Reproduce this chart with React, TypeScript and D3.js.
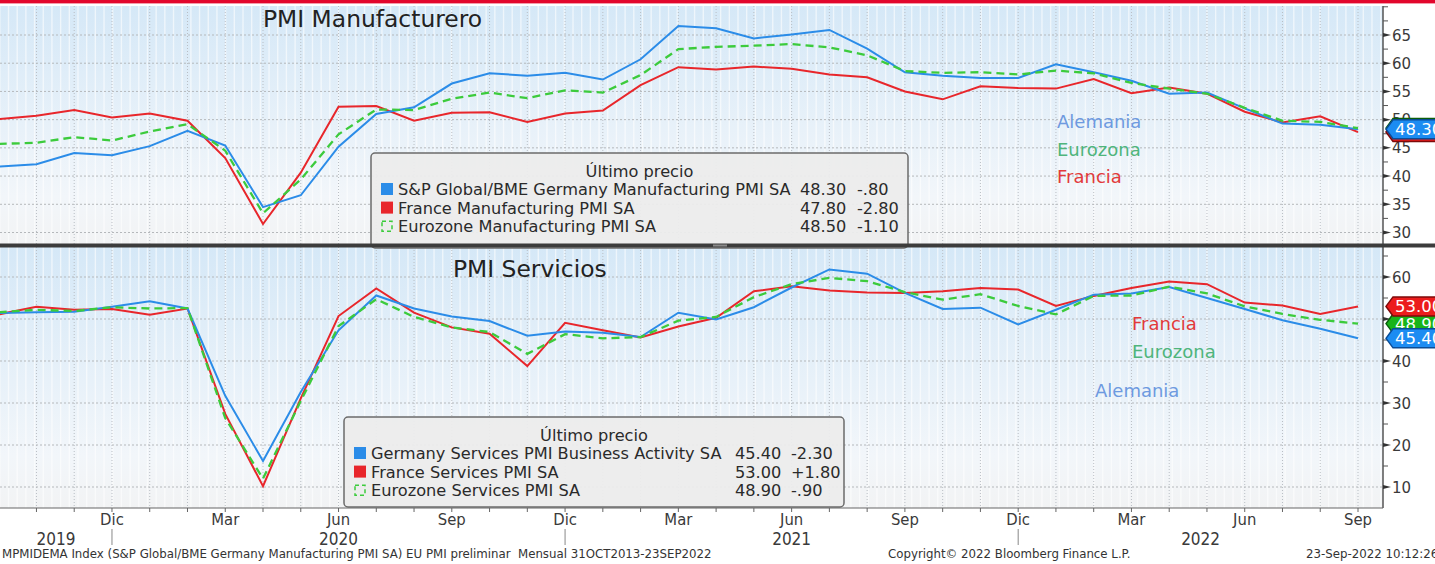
import React from "react";
import * as d3 from "d3";

// monthly observations, Sep 2019 .. Sep 2022
const months = [
  "2019-09", "2019-10", "2019-11", "2019-12",
  "2020-01", "2020-02", "2020-03", "2020-04", "2020-05", "2020-06", "2020-07", "2020-08", "2020-09", "2020-10", "2020-11", "2020-12",
  "2021-01", "2021-02", "2021-03", "2021-04", "2021-05", "2021-06", "2021-07", "2021-08", "2021-09", "2021-10", "2021-11", "2021-12",
  "2022-01", "2022-02", "2022-03", "2022-04", "2022-05", "2022-06", "2022-07", "2022-08", "2022-09",
];

const deMfg = [41.7, 42.1, 44.1, 43.7, 45.3, 48.0, 45.4, 34.5, 36.6, 45.2, 51.0, 52.2, 56.4, 58.2, 57.8, 58.3, 57.1, 60.7, 66.6, 66.2, 64.4, 65.1, 65.9, 62.6, 58.4, 57.8, 57.4, 57.4, 59.8, 58.4, 56.9, 54.6, 54.8, 52.0, 49.3, 49.1, 48.3];
const frMfg = [50.1, 50.7, 51.7, 50.4, 51.1, 49.8, 43.2, 31.5, 40.6, 52.3, 52.4, 49.8, 51.2, 51.3, 49.6, 51.1, 51.6, 56.1, 59.3, 58.9, 59.4, 59.0, 58.0, 57.5, 55.0, 53.6, 55.9, 55.6, 55.5, 57.2, 54.7, 55.7, 54.6, 51.4, 49.5, 50.6, 47.8];
const ezMfg = [45.7, 45.9, 46.9, 46.3, 47.9, 49.2, 44.5, 33.4, 39.4, 47.4, 51.8, 51.7, 53.7, 54.8, 53.8, 55.2, 54.8, 57.9, 62.5, 62.9, 63.1, 63.4, 62.8, 61.4, 58.6, 58.3, 58.4, 58.0, 58.7, 58.2, 56.5, 55.5, 54.6, 52.1, 49.8, 49.6, 48.5];

const deSvc = [51.4, 51.6, 51.7, 52.9, 54.2, 52.5, 31.7, 16.2, 32.6, 47.3, 55.6, 52.5, 50.6, 49.5, 46.0, 47.0, 46.7, 45.7, 51.5, 49.9, 52.8, 57.5, 61.8, 60.8, 56.2, 52.4, 52.7, 48.7, 52.2, 55.8, 56.1, 57.6, 55.0, 52.4, 49.7, 47.7, 45.4];
const frSvc = [51.1, 52.9, 52.2, 52.4, 51.0, 52.5, 27.4, 10.2, 31.1, 50.7, 57.3, 51.5, 48.0, 46.5, 38.8, 49.1, 47.3, 45.6, 48.2, 50.3, 56.6, 57.8, 56.8, 56.3, 56.2, 56.6, 57.4, 57.0, 53.1, 55.5, 57.4, 58.9, 58.3, 53.9, 53.2, 51.2, 53.0];
const ezSvc = [51.6, 52.2, 51.9, 52.8, 52.5, 52.6, 26.4, 12.0, 30.5, 48.3, 54.7, 50.5, 48.0, 46.9, 41.7, 46.4, 45.4, 45.7, 49.6, 50.5, 55.2, 58.3, 59.8, 59.0, 56.4, 54.6, 55.9, 53.1, 51.1, 55.5, 55.6, 57.7, 56.1, 53.0, 51.2, 49.8, 48.9];

const mfgNames = ["S&P Global/BME Germany Manufacturing PMI SA", "France Manufacturing PMI SA", "Eurozone Manufacturing PMI SA"];
const mfgLast = ["48.30", "47.80", "48.50"];
const mfgChg = ["-.80", "-2.80", "-1.10"];
const svcNames = ["Germany Services PMI Business Activity SA", "France Services PMI SA", "Eurozone Services PMI SA"];
const svcLast = ["45.40", "53.00", "48.90"];
const svcChg = ["-2.30", "+1.80", "-.90"];

const monthNames: Record<string, string> = { "03": "Mar", "06": "Jun", "09": "Sep", "12": "Dic" };
const years = ["2019", "2020", "2021", "2022"];

const topTicks = [30, 35, 40, 45, 50, 55, 60, 65];
const botTicks = [10, 20, 30, 40, 50, 60];

const W = 1435;
const H = 564;
const AX = 1383;
const FONT = "'DejaVu Sans', Verdana, sans-serif";
const COND = "'DejaVu Sans Condensed', 'DejaVu Sans', sans-serif";

const BLUE = "#2b8ce8";
const RED = "#e8262b";
const GREEN = "#3ccb3c";

const x = d3.scaleLinear().domain([0, months.length - 1]).range([-1.3, 1358]);
const yTop = d3.scaleLinear().domain([30, 65]).range([232.5, 35]);
const yBot = d3.scaleLinear().domain([10, 60]).range([487, 277]);

function Panel(props: {
  id: string; y0: number; y1: number; y: d3.ScaleLinear<number, number>;
  ticks: number[]; minor: number[];
  de: number[]; fr: number[]; ez: number[];
}) {
  const { id, y0, y1, y, ticks, minor, de, fr, ez } = props;
  const line = (vals: number[]) =>
    d3.line<number>().x((_, i) => x(i)).y((v) => y(v))(vals) || "";
  const stripes = d3.range(-0.2, months.length, 0.23);
  return (
    <g>
      <defs>
        <linearGradient id={`bg-${id}`} x1="0" y1="0" x2="0" y2="1">
          <stop offset="0" stopColor="#d5e8f7" />
          <stop offset="0.8" stopColor="#f2f6fa" />
          <stop offset="1" stopColor="#f2f3f4" />
        </linearGradient>
        <clipPath id={`clip-${id}`}>
          <rect x={0} y={y0} width={AX} height={y1 - y0} />
        </clipPath>
      </defs>
      <rect x={0} y={y0} width={AX} height={y1 - y0} fill={`url(#bg-${id})`} />
      <g clipPath={`url(#clip-${id})`}>
        {stripes.map((s, i) => (
          <line key={i} x1={x(s)} x2={x(s)} y1={y0} y2={y1} stroke="#ffffff" strokeWidth={1.4} opacity={0.6} />
        ))}
        {months.map((m, i) => (
          <line key={m} x1={x(i)} x2={x(i)} y1={y0} y2={y1} stroke="#b9bec4" strokeWidth={1} strokeDasharray="1,2" />
        ))}
        {ticks.map((t) => (
          <line key={t} x1={0} x2={AX} y1={y(t)} y2={y(t)} stroke="#b5b8bb" strokeWidth={1} strokeDasharray="2,2" />
        ))}
        <path d={line(fr)} fill="none" stroke={RED} strokeWidth={2} />
        <path d={line(de)} fill="none" stroke={BLUE} strokeWidth={2} />
        <path d={line(ez)} fill="none" stroke={GREEN} strokeWidth={2.3} strokeDasharray="8,5" />
      </g>
      <line x1={AX} x2={AX} y1={y0} y2={y1} stroke="#555" strokeWidth={1.5} />
      {minor.map((t) => (
        <line key={`m${t}`} x1={AX} x2={AX + 5} y1={y(t)} y2={y(t)} stroke="#555" strokeWidth={1} />
      ))}
      {ticks.map((t) => (
        <g key={`t${t}`}>
          <path d={`M${AX},${y(t) - 2}L${AX + 8},${y(t)}L${AX},${y(t) + 2}Z`} fill="#333" />
          <text x={AX + 9} y={y(t) + 5.5} fontFamily={FONT} fontSize={15} fill="#3a3a3a">{t}</text>
        </g>
      ))}
    </g>
  );
}

function Legend(props: {
  x: number; y: number; w: number; h: number;
  names: string[]; last: string[]; chg: string[];
  valX: number; chgX: number;
}) {
  const { x: lx, y: ly, w, h, names, last, chg, valX, chgX } = props;
  const colors = [BLUE, RED, GREEN];
  const rowY = (i: number) => ly + 42 + i * 18.6;
  return (
    <g fontFamily={FONT} fontSize={16.2} fill="#2a2a2a">
      <rect x={lx} y={ly} width={w} height={h} rx={4} fill="#ececec" fillOpacity={0.95} stroke="#6b6b6b" strokeWidth={1.5} />
      <text x={lx + w / 2} y={ly + 24} textAnchor="middle">Último precio</text>
      {names.map((n, i) => (
        <g key={n}>
          {i < 2 ? (
            <rect x={lx + 10} y={rowY(i) - 12} width={12} height={12} fill={colors[i]} />
          ) : (
            <rect x={lx + 11} y={rowY(i) - 11} width={10} height={10} fill="none" stroke={GREEN} strokeWidth={1.5} strokeDasharray="4,3" />
          )}
          <text x={lx + 27} y={rowY(i)}>{n}</text>
          <text x={valX} y={rowY(i)}>{last[i]}</text>
          <text x={chgX} y={rowY(i)}>{chg[i]}</text>
        </g>
      ))}
    </g>
  );
}

function Tag(props: { yv: number; label: string; fill: string; stroke: string }) {
  const { yv, label, fill, stroke } = props;
  const h = 9.5;
  const d = `M${AX + 3},${yv}L${AX + 10},${yv - h}L${W + 5},${yv - h}L${W + 5},${yv + h}L${AX + 10},${yv + h}Z`;
  return (
    <g>
      <path d={d} fill={fill} stroke={stroke} strokeWidth={1.5} />
      <text x={AX + 12} y={yv + 6} fontFamily={FONT} fontSize={16.5} fill="#ffffff">{label}</text>
    </g>
  );
}

export default function App() {
  const n = months.length;
  const last = n - 1;
  const decIdx = months.map((m, i) => (m.endsWith("-12") ? i : -1)).filter((i) => i >= 0);
  const bounds = [0, ...decIdx.map((i) => x(i)), AX];
  const yearX = years.map((_, k) => (bounds[k] + bounds[k + 1]) / 2);
  const tickIdx = months.map((m, i) => (i > 0 && monthNames[m.slice(5)] ? i : -1)).filter((i) => i >= 0);

  return (
    <svg width={W} height={H} style={{ position: "absolute", left: 0, top: 0, background: "#fff" }}>
      <rect x={0} y={0} width={W} height={H} fill="#ffffff" />
      <rect x={0} y={0} width={W} height={3.4} fill="#e2062c" />

      <Panel id="top" y0={6} y1={244} y={yTop} ticks={topTicks}
        minor={[32.5, 37.5, 42.5, 47.5, 52.5, 57.5, 62.5, 67.5, 70]}
        de={deMfg} fr={frMfg} ez={ezMfg} />
      <Panel id="bot" y0={247} y1={508} y={yBot} ticks={botTicks}
        minor={[15, 25, 35, 45, 55, 65]}
        de={deSvc} fr={frSvc} ez={ezSvc} />

      {/* titles */}
      <text x={263} y={27} fontFamily={FONT} fontSize={23.4} fill="#222">PMI Manufacturero</text>
      <text x={453} y={277} fontFamily={FONT} fontSize={23.4} fill="#222">PMI Servicios</text>

      {/* series labels */}
      <g fontFamily={FONT} fontSize={18}>
        <text x={1057} y={128} fill="#6e9ae0">Alemania</text>
        <text x={1057} y={156} fill="#4fb57c">Eurozona</text>
        <text x={1057} y={183} fill="#e23a3a">Francia</text>
        <text x={1132} y={330} fill="#e23a3a">Francia</text>
        <text x={1132} y={358} fill="#4fb57c">Eurozona</text>
        <text x={1095} y={397} fill="#6e9ae0">Alemania</text>
      </g>

      <Legend x={371} y={153} w={537} h={95} names={mfgNames} last={mfgLast} chg={mfgChg} valX={800} chgX={857} />
      <Legend x={344} y={417} w={500} h={90} names={svcNames} last={svcLast} chg={svcChg} valX={735} chgX={791} />

      {/* last value tags */}
      <Tag yv={yTop(ezMfg[last])} label={mfgLast[2]} fill="#19b419" stroke="#0b5e0b" />
      <Tag yv={yTop(frMfg[last])} label={mfgLast[1]} fill="#ec1c1c" stroke="#7d0a0a" />
      <Tag yv={yTop(deMfg[last])} label={mfgLast[0]} fill="#1c8cf2" stroke="#0a4c96" />
      <Tag yv={yBot(ezSvc[last])} label={svcLast[2]} fill="#19b419" stroke="#0b5e0b" />
      <Tag yv={yBot(frSvc[last])} label={svcLast[1]} fill="#ec1c1c" stroke="#7d0a0a" />
      <Tag yv={yBot(deSvc[last])} label={svcLast[0]} fill="#1c8cf2" stroke="#0a4c96" />

      {/* panel separator */}
      <rect x={0} y={243.5} width={W} height={4} fill="#3c3c3c" />
      <rect x={713} y={244.5} width={14} height={2} fill="#8a8a8a" />

      {/* x axis */}
      <line x1={0} x2={AX} y1={508} y2={508} stroke="#666" strokeWidth={1.2} />
      {months.map((m, i) => (
        <line key={m} x1={x(i)} x2={x(i)} y1={508} y2={512} stroke="#666" strokeWidth={1} />
      ))}
      {tickIdx.map((i) => (
        <text key={months[i]} x={x(i)} y={525} textAnchor="middle" fontFamily={COND} fontStretch="condensed" fontSize={16.5} fill="#3a3a3a">
          {monthNames[months[i].slice(5)]}
        </text>
      ))}
      {decIdx.map((i) => (
        <line key={`d${i}`} x1={x(i)} x2={x(i)} y1={529} y2={545} stroke="#888" strokeWidth={1} />
      ))}
      {years.map((yr, k) => (
        <text key={yr} x={yearX[k]} y={545} textAnchor="middle" fontFamily={COND} fontStretch="condensed" fontSize={17} fill="#3a3a3a">{yr}</text>
      ))}

      {/* footer */}
      <g fontFamily={COND} fontStretch="condensed" fontSize={13.1} fill="#333">
        <text x={2} y={558} style={{ whiteSpace: "pre" }}>MPMIDEMA Index (S&amp;P Global/BME Germany Manufacturing PMI SA) EU PMI preliminar  Mensual 31OCT2013-23SEP2022</text>
        <text x={888} y={558}>Copyright© 2022 Bloomberg Finance L.P.</text>
        <text x={1306} y={558}>23-Sep-2022 10:12:26</text>
      </g>
    </svg>
  );
}
